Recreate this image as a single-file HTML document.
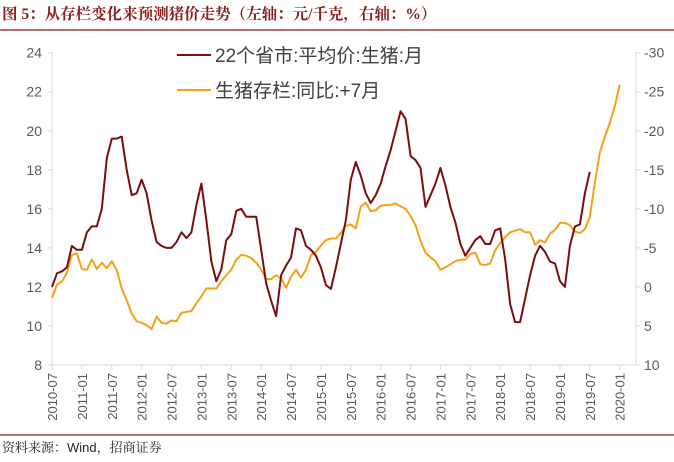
<!DOCTYPE html>
<html><head><meta charset="utf-8"><style>
body{margin:0;background:#fff;width:674px;height:457px;overflow:hidden;font-family:"Liberation Sans","Noto Sans CJK SC",sans-serif}
</style></head><body>
<svg id="c" width="674" height="457" xmlns="http://www.w3.org/2000/svg">
<text x="2" y="19" font-family="'Liberation Serif','Noto Serif CJK SC',serif" font-weight="bold" font-size="15.5" fill="#8b1a1a">图 5：从存栏变化来预测猪价走势（左轴：元/千克，右轴：%）</text>
<line x1="0" y1="30" x2="674" y2="30" stroke="#8b1a1a" stroke-width="1.2"/>
<line x1="0" y1="435" x2="674" y2="435" stroke="#8b1a1a" stroke-width="1.2"/>
<text x="2" y="452" font-size="13" fill="#222" font-family="'Liberation Sans','Noto Serif CJK SC',serif">资料来源：Wind，招商证券</text>
<g id="axes"></g>
<g id="series"></g>
<g>
<line x1="177" y1="55" x2="211" y2="55" stroke="#7b0c10" stroke-width="2"/>
<text x="215" y="62" font-size="19" fill="#404040">22个省市:平均价:生猪:月</text>
<line x1="177" y1="90" x2="211" y2="90" stroke="#f5a01a" stroke-width="2"/>
<text x="215" y="97" font-size="19" fill="#404040">生猪存栏:同比:+7月</text>
</g>
</svg>
<script>
const leftTicks=[8,10,12,14,16,18,20,22,24];
const rightTicks=[-30,-25,-20,-15,-10,-5,0,5,10];
const xLabels=["2010-07","2011-01","2011-07","2012-01","2012-07","2013-01","2013-07","2014-01","2014-07","2015-01","2015-07","2016-01","2016-07","2017-01","2017-07","2018-01","2018-07","2019-01","2019-07","2020-01"];
const priceSeries=[12.0,12.7,12.8,13.0,14.1,13.9,13.9,14.8,15.1,15.1,16.0,18.6,19.6,19.6,19.7,18.0,16.7,16.8,17.5,16.8,15.4,14.3,14.1,14.0,14.0,14.3,14.8,14.5,14.8,16.2,17.3,15.4,13.3,12.3,12.9,14.4,14.7,15.9,16.0,15.6,15.6,15.6,13.9,12.2,11.3,10.5,12.6,13.1,13.5,15.0,14.9,14.1,13.9,13.6,13.0,12.1,11.9,13.0,14.2,15.4,17.5,18.4,17.7,16.8,16.3,16.7,17.3,18.2,19.0,20.0,21.0,20.6,18.7,18.5,18.1,16.1,16.7,17.3,18.1,17.2,16.1,15.3,14.2,13.6,14.0,14.4,14.6,14.2,14.2,14.9,15.0,13.4,11.1,10.2,10.2,11.4,12.6,13.6,14.1,13.8,13.3,13.2,12.3,12.0,14.1,15.1,15.2,16.8,17.9];
const inventorySeries=[1.4,-0.3,-0.7,-1.8,-4.1,-4.3,-2.3,-2.2,-3.5,-2.3,-3.1,-2.4,-3.3,-2.2,0.2,1.7,3.4,4.4,4.6,4.9,5.4,3.8,4.6,4.7,4.3,4.4,3.3,3.2,3.1,2.1,1.2,0.2,0.2,0.2,-0.7,-1.5,-2.2,-3.5,-4.1,-4.0,-3.7,-3.1,-2.2,-1.0,-1.0,-1.5,-1.1,0.1,-1.3,-2.2,-1.2,-2.2,-4.1,-4.5,-5.3,-6.0,-6.2,-6.2,-6.9,-7.8,-8.0,-7.5,-10.3,-10.8,-9.7,-9.8,-10.4,-10.5,-10.5,-10.7,-10.3,-10.0,-9.1,-7.9,-5.9,-4.4,-3.8,-3.3,-2.2,-2.5,-2.9,-3.3,-3.5,-3.5,-4.2,-4.4,-2.9,-2.8,-3.0,-4.7,-5.6,-6.4,-7.0,-7.2,-7.4,-7.0,-7.0,-5.4,-6.0,-5.7,-6.8,-7.3,-8.2,-8.2,-7.9,-7.1,-6.9,-7.4,-9.0,-13.3,-17.2,-19.2,-21.0,-23.1,-25.9];

const NS="http://www.w3.org/2000/svg";
const X0=52,X1=636,YT=52.7,YB=365,PXM=4.98;
const xm=i=>X0+i*PXM;
const yL=v=>YB-(v-8)/16*(YB-YT);
const yR=v=>YT+(v+30)/40*(YB-YT);
function mk(tag,attrs,parent,text){const e=document.createElementNS(NS,tag);for(const k in attrs)e.setAttribute(k,attrs[k]);if(text!==undefined)e.textContent=text;parent.appendChild(e);return e;}
const ax=document.getElementById('axes');
let e;
e=mk('line',{x1:X0,y1:YT,x2:X0,y2:YB,stroke:'#d9d9d9'},ax);


e=mk('line',{x1:X1,y1:YT,x2:X1,y2:YB,stroke:'#d9d9d9'},ax);


e=mk('line',{x1:X0,y1:YB,x2:X1,y2:YB,stroke:'#d9d9d9'},ax);


leftTicks.forEach(v=>{const y=yL(v);
 e=mk('line',{x1:X0-4,y1:y,x2:X0,y2:y,stroke:'#d9d9d9'},ax);
 
 
 e=mk('text',{x:X0-10,y:y+5,'text-anchor':'end','font-size':14,fill:'#595959'},ax,String(v));
 
 
});
rightTicks.forEach(v=>{const y=yR(v);
 e=mk('line',{x1:X1,y1:y,x2:X1+4,y2:y,stroke:'#d9d9d9'},ax);
 
 
 e=mk('text',{x:X1+8,y:y+5,'font-size':14,fill:'#595959'},ax,String(v));
 
 
});
xLabels.forEach((l,k)=>{const x=xm(k*6);
 e=mk('line',{x1:x,y1:YB,x2:x,y2:YB+5,stroke:'#d9d9d9'},ax);
 
 
 e=mk('text',{x:0,y:0,'text-anchor':'end','font-size':13,fill:'#595959',transform:`translate(${x+5},${YB+8}) rotate(-90)`},ax,l);
 
 
});
const sg=document.getElementById('series');
e=mk('polyline',{points:inventorySeries.map((v,i)=>xm(i).toFixed(1)+','+yR(v).toFixed(1)).join(' '),fill:'none',stroke:'#f5a01a','stroke-width':2,'stroke-linejoin':'round'},sg);


e=mk('polyline',{points:priceSeries.map((v,i)=>xm(i).toFixed(1)+','+yL(v).toFixed(1)).join(' '),fill:'none',stroke:'#7b0c10','stroke-width':2,'stroke-linejoin':'round'},sg);


</script>
</body></html>
